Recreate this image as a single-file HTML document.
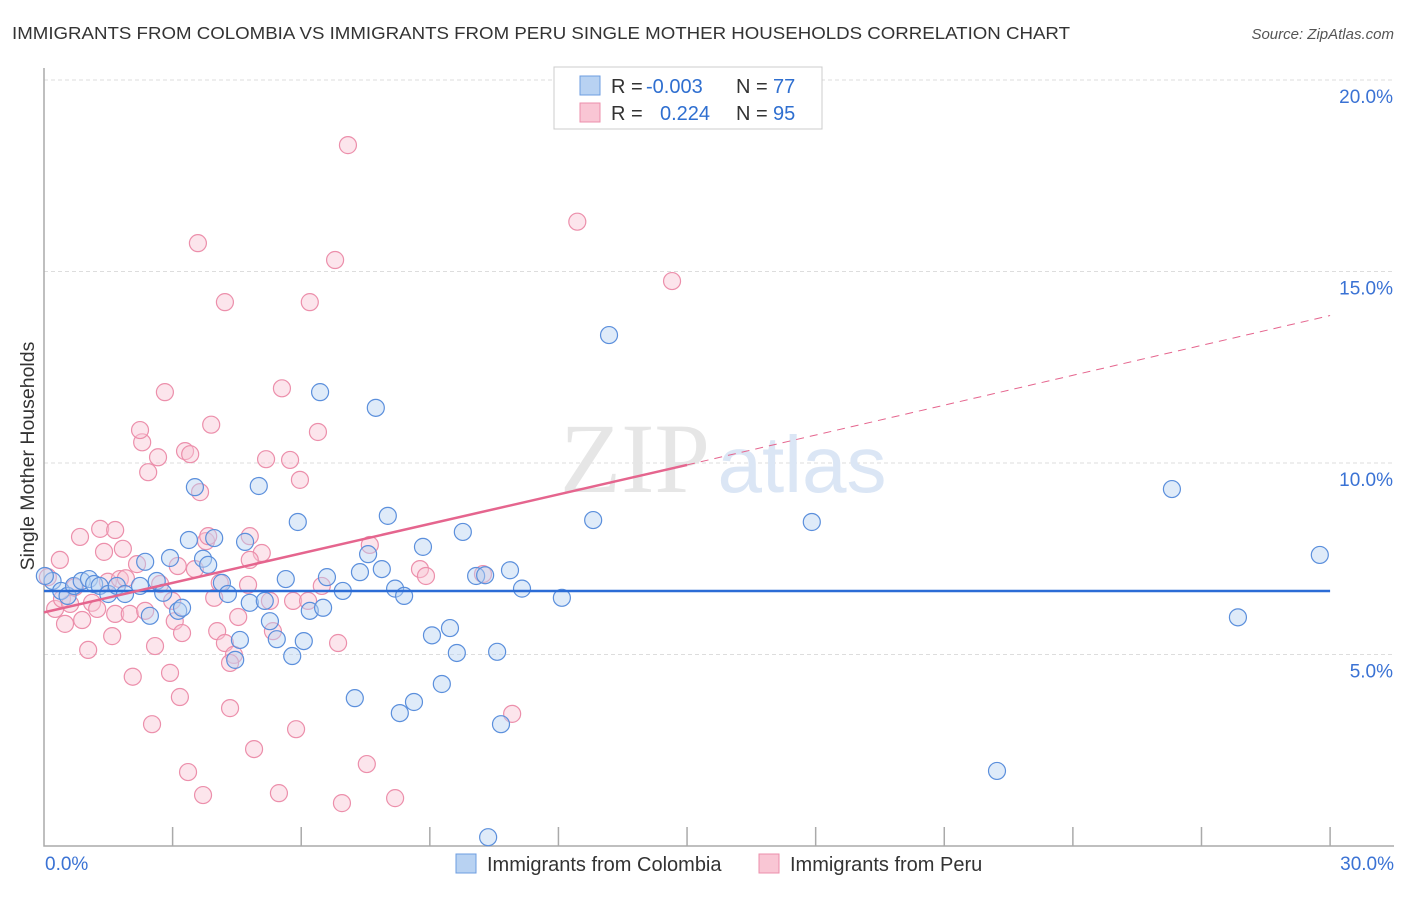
<!DOCTYPE html>
<html><head><meta charset="utf-8"><style>
body{margin:0;background:#fff;font-family:"Liberation Sans",sans-serif;}
</style></head><body>
<svg width="1406" height="892" xmlns="http://www.w3.org/2000/svg">
<text x="12" y="39" font-size="17.5" fill="#333" textLength="1058" lengthAdjust="spacingAndGlyphs">IMMIGRANTS FROM COLOMBIA VS IMMIGRANTS FROM PERU SINGLE MOTHER HOUSEHOLDS CORRELATION CHART</text>
<text x="1394" y="39" font-size="15" fill="#555" font-style="italic" text-anchor="end">Source: ZipAtlas.com</text>
<g id="grid"></g>
<text x="635" y="492" font-size="100" fill="#e6e6e6" font-family="Liberation Serif" text-anchor="middle">ZIP</text>
<text x="802" y="492" font-size="80" fill="#dbe6f5" text-anchor="middle">atlas</text>
<g id="pts"></g>
<g id="lines"></g>
<text x="34" y="456" font-size="19.5" fill="#333" text-anchor="middle" transform="rotate(-90 34 456)">Single Mother Households</text>
<rect x="554" y="67" width="268" height="62" fill="#fff" stroke="#ccc"/>
<rect x="580" y="76" width="20" height="19" fill="#b8d2f2" stroke="#6d9de0"/>
<rect x="580" y="103" width="20" height="19" fill="#f9c6d4" stroke="#ec8fab"/>
<text font-size="20" fill="#333"><tspan x="611" y="93">R = </tspan><tspan x="646" fill="#2f6fd0">-0.003</tspan><tspan x="736">N = </tspan><tspan x="773" fill="#2f6fd0">77</tspan></text>
<text font-size="20" fill="#333"><tspan x="611" y="120">R = </tspan><tspan x="660" fill="#2f6fd0">0.224</tspan><tspan x="736">N = </tspan><tspan x="773" fill="#2f6fd0">95</tspan></text>
<rect x="456" y="854" width="20" height="19" fill="#b8d2f2" stroke="#6d9de0"/>
<text x="487" y="871" font-size="20" fill="#333">Immigrants from Colombia</text>
<rect x="759" y="854" width="20" height="19" fill="#f9c6d4" stroke="#ec8fab"/>
<text x="790" y="871" font-size="20" fill="#333">Immigrants from Peru</text>
</svg>
<script>
const xTicks=[0,3,6,9,12,15,18,21,24,27,30];
const yTicks=[5,10,15,20];
const yTickLabels=["5.0%","10.0%","15.0%","20.0%"];
const xEndLabels=["0.0%","30.0%"];
const colX=[0.2,0.4,0.55,0.7,0.88,1.05,1.17,1.3,1.5,1.7,1.89,2.24,2.36,2.47,2.63,2.78,2.94,3.13,3.22,3.38,3.52,3.71,3.83,3.97,4.15,4.29,4.46,4.57,4.69,4.8,5.01,5.15,5.27,5.43,5.64,5.79,5.92,6.06,6.2,6.44,6.51,6.6,6.97,7.25,7.37,7.56,7.74,7.88,8.02,8.19,8.3,8.4,8.63,8.84,9.05,9.28,9.47,9.63,9.77,10.08,10.29,10.57,10.66,10.87,11.15,12.08,12.81,13.18,17.91,22.23,26.31,27.85,29.76,10.36,0.02];
const colY=[6.92,6.66,6.53,6.79,6.92,6.97,6.84,6.79,6.58,6.79,6.58,6.79,7.42,6.01,6.92,6.61,7.52,6.14,6.22,7.99,9.37,7.5,7.34,8.04,6.87,6.58,4.86,5.38,7.94,6.35,9.4,6.4,5.87,5.4,6.97,4.96,8.46,5.35,6.14,11.85,6.22,7.02,6.66,3.86,7.15,7.62,11.44,7.23,8.62,6.72,3.47,6.53,3.76,7.81,5.5,4.23,5.69,5.04,8.2,7.05,7.07,5.07,3.18,7.2,6.72,6.48,8.51,13.34,8.46,1.96,9.32,5.97,7.6,0.23,7.05];
const peruX=[0.09,0.26,0.42,0.49,0.61,0.72,0.84,0.89,1.03,1.12,1.24,1.31,1.4,1.49,1.59,1.66,1.77,1.84,1.91,2.0,2.07,2.17,2.29,2.36,2.43,2.52,2.59,2.66,2.71,2.82,2.94,2.99,3.05,3.12,3.17,3.22,3.29,3.36,3.41,3.52,3.59,3.64,3.71,3.78,3.83,3.9,3.97,4.04,4.1,4.22,4.22,4.34,4.43,4.53,4.76,4.8,4.9,5.08,5.18,5.27,5.34,5.48,5.55,5.74,5.81,5.88,6.16,6.2,6.39,6.48,6.79,6.86,6.95,7.09,7.53,7.6,8.19,8.77,8.91,10.24,10.92,12.44,14.65,4.34,1.66,0.37,2.24,4.8,5.97];
const peruY=[7.02,6.19,6.45,5.8,6.32,6.76,8.07,5.9,5.12,6.35,6.19,8.28,7.68,6.9,5.48,6.06,6.97,7.76,6.99,6.06,4.42,7.36,10.54,6.14,9.76,3.18,5.22,10.15,6.84,11.85,4.52,6.4,5.87,7.31,3.89,5.56,10.31,1.93,10.23,7.23,15.74,9.24,1.33,7.96,8.09,11.0,6.48,5.61,6.87,5.3,14.2,3.6,4.99,5.98,6.82,8.09,2.53,7.65,10.1,6.4,5.61,1.38,11.95,10.08,6.4,3.05,6.4,14.2,10.81,6.79,15.3,5.3,1.12,18.3,2.14,7.86,1.25,7.23,7.05,7.1,3.45,16.3,14.75,4.78,8.25,7.47,10.86,7.47,9.56];
const sx=v=>44+v*42.87, sy=v=>846-v*38.3;
const NS="http://www.w3.org/2000/svg";
function mk(tag,attrs,parent){const e=document.createElementNS(NS,tag);for(const k in attrs)e.setAttribute(k,attrs[k]);document.getElementById(parent).appendChild(e);return e;}
yTicks.forEach((t,i)=>{
 const g=mk('line',{x1:44,x2:1394,y1:sy(t),y2:sy(t),stroke:'#ddd','stroke-dasharray':'4,3'},'grid');
 
 
 const l=mk('text',{x:1393,y:sy(t)+23,'font-size':19,fill:'#3a72d4','text-anchor':'end'},'grid');l.textContent=yTickLabels[i];
 
 
});
const ax=mk('path',{d:`M44 68 V846 H1394`,stroke:'#aaa',fill:'none','stroke-width':1.5},'grid');


xTicks.slice(1).forEach(t=>{
 const k=mk('line',{x1:sx(t),x2:sx(t),y1:827,y2:846,stroke:'#aaa','stroke-width':1.5},'grid');
 
 
});
[[0,'start',45],[30,'end',1394]].forEach((a,i)=>{
 const l=mk('text',{x:a[2],y:870,'font-size':19,fill:'#3a72d4','text-anchor':a[1]},'grid');l.textContent=xEndLabels[i];
 
 
});
function dots(X,Y,fill,stroke,name){X.forEach((x,i)=>{
 const c=mk('circle',{cx:sx(x),cy:sy(Y[i]),r:8.5,fill:fill,'fill-opacity':0.45,stroke:stroke,'stroke-width':1.2},'pts');
 
 
});}
dots(peruX,peruY,'#f9c6d4','#ec8fab','point-peru');
dots(colX,colY,'#b8d2f2','#5b8fdc','point-colombia');
const b=mk('line',{x1:sx(0),x2:sx(30),y1:591,y2:591,stroke:'#2b6cd6','stroke-width':2.5},'lines');


const p=mk('line',{x1:sx(0),x2:sx(15),y1:sy(6.1),y2:sy(9.95),stroke:'#e5658e','stroke-width':2.5},'lines');


const pd=mk('line',{x1:sx(15),x2:sx(30),y1:sy(9.95),y2:sy(13.85),stroke:'#e5658e','stroke-width':1,'stroke-dasharray':'8,6'},'lines');


</script>
</body></html>
